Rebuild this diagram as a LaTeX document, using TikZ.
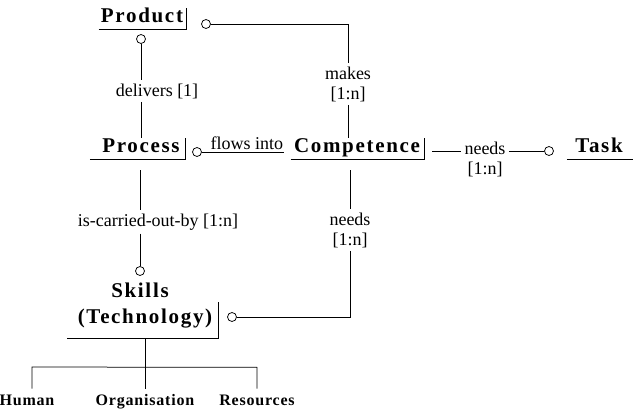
\documentclass[tikz,border=0pt]{standalone}
\usepackage{fontspec}
\setmainfont{Liberation Serif}
\newfontfamily\entityfont[LetterSpace=8]{Liberation Serif}
\newfontfamily\leaffont[LetterSpace=5]{Liberation Serif}
\usetikzlibrary{calc}
\begin{document}
\begin{tikzpicture}[x=1pt,y=-1pt,line width=0.75pt,
  entity/.style={font=\entityfont\fontsize{21}{23}\selectfont\bfseries,
    inner xsep=0pt, inner ysep=0pt, text height=15pt, text depth=6pt, anchor=base},
  leaf/.style={font=\leaffont\fontsize{16}{18}\selectfont\bfseries,
    inner sep=0pt, text height=17pt, text depth=3pt, anchor=base},
  lbl/.style={font=\fontsize{18}{20}\selectfont, inner xsep=3pt, inner ysep=3pt, align=center},
  ring/.style={circle, draw, inner sep=0pt, minimum size=9pt, fill=white}]
\useasboundingbox (0,0) rectangle (633,409);

% entities
\node[entity] (prod) at (142,23) {Product};
\node[entity] (proc) at (141,153) {Process};
\node[entity] (comp) at (357,153) {Competence};
\node[entity] (task) at (599,153) {Task};
\node[entity] (skl) at (140,298) {Skills};
\node[entity, text height=22pt, text depth=14pt] (tech) at (145,324) {(Technology)};

% underlines and side bars
\draw ([xshift=-2pt]prod.south west) -- ([xshift=3pt]prod.south east) -- ([xshift=3pt]prod.north east);
\draw ([xshift=-12pt]proc.south west) -- ([xshift=5pt]proc.south east) -- ([xshift=5pt]proc.north east);
\draw ([xshift=-3pt]comp.south west) -- ([xshift=4pt]comp.south east) -- ([xshift=4pt]comp.north east);
\draw ([xshift=-8pt]task.south west) -- ([xshift=12pt]task.south east);
\draw ([xshift=-10pt]tech.south west) -- ([xshift=6pt]tech.south east) -- ([xshift=6pt]tech.north east);

% Product -- Process : delivers [1]
\node[ring] (r1) at (141,39) {};
\node[lbl] (l1) at (157,91) {delivers [1]};
\draw (r1.south) -- (r1.south |- l1.north);
\draw (r1.south |- l1.south) -- (r1.south |- proc.north);

% Product -- Competence : makes [1:n]
\node[ring] (r2) at (206,24) {};
\node[lbl] (l2) at (348,84) {makes\\{[1:n]}};
\draw (r2.east) -| (l2.north);
\draw (l2.south) -- (l2.south |- comp.north);

% Competence -- Process : flows into
\node[ring] (r3) at (197,152) {};
\draw (r3.east) -- ($(r3.east -| comp.west)+(-10,0)$)
  node[lbl, above, pos=0.55, inner ysep=2pt] (l3) {flows into};

% Competence -- Task : needs [1:n]
\node[ring] (r4) at (549,151) {};
\node[lbl, anchor=north] (l4) at (485,139) {needs\\{[1:n]}};
\draw ($(comp.east |- r4)+(12,0)$) -- (r4 -| l4.west);
\draw (r4 -| l4.east) -- (r4.west);

% Competence -- Skills : needs [1:n]
\node[lbl] (l5) at (350,230) {needs\\{[1:n]}};
\node[ring] (r5) at (232,317) {};
\draw ($(comp.south -| l5.north)+(0,11)$) -- (l5.north);
\draw (l5.south) |- (r5.east);

% Process -- Skills : is-carried-out-by [1:n]
\node[lbl] (l6) at (158,222) {is-carried-out-by [1:n]};
\node[ring] (r6) at (140,271) {};
\draw ($(proc.south -| r6)+(0,11)$) -- (r6 |- l6.north);
\draw (r6 |- l6.south) -- (r6.north);

% Skills breakdown
\node[leaf] (hum) at (27,406) {Human};
\node[leaf] (org) at (145,406) {Organisation};
\node[leaf] (res) at (257,406) {Resources};
\coordinate (j) at ($(tech.south)+(0,29)$);
\coordinate (dh) at (32,367);
\draw (tech.south) -- (j);
\draw (dh |- hum.north) -- (dh) -- (j -| res.north) -- (res.north);
\draw (j) -- (org.north);
\end{tikzpicture}
\end{document}
